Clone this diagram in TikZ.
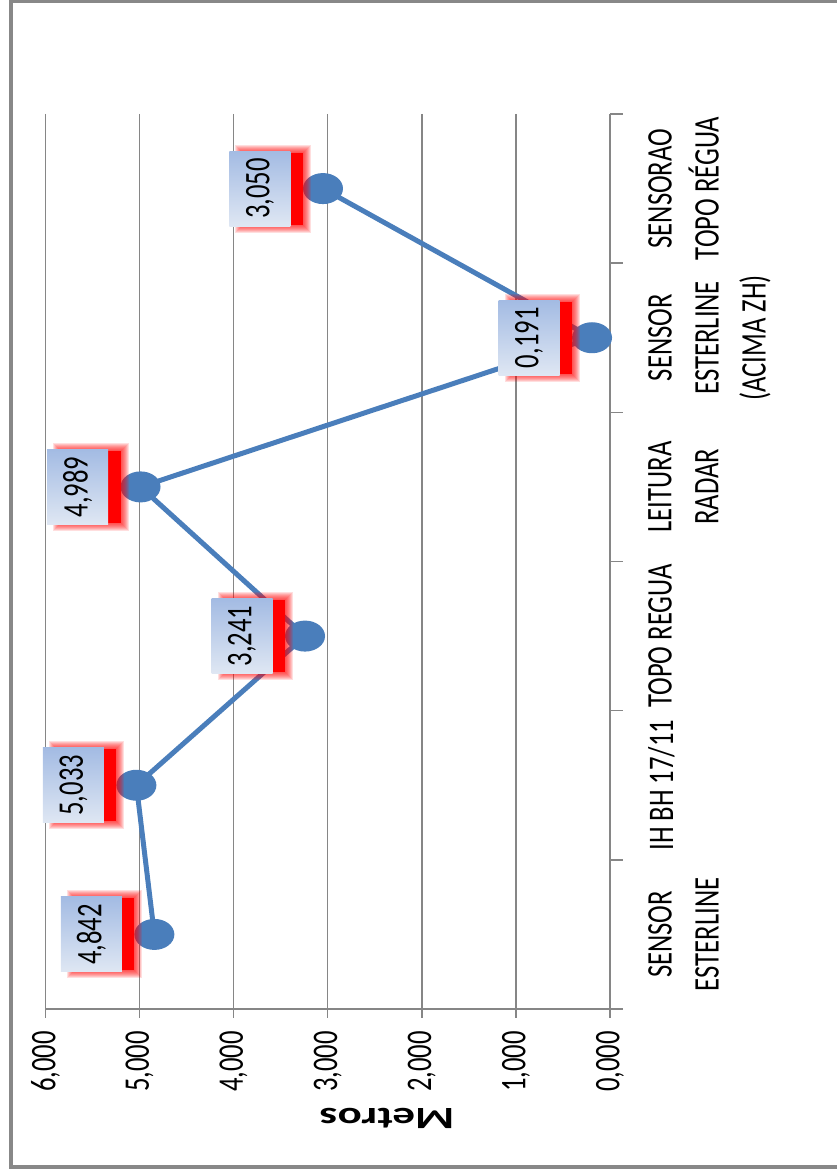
\documentclass[tikz,border=0pt]{standalone}
\usepackage{fontspec}
\setmainfont{Carlito}
\newfontfamily\narrowfont[FakeStretch=0.74]{Carlito}
\newfontfamily\widefont[FakeStretch=1.45]{Carlito}
\usetikzlibrary{calc}

\definecolor{serieblue}{HTML}{4A7EBB}
\definecolor{gridgray}{HTML}{868686}
\definecolor{framegray}{HTML}{888888}
\definecolor{labelleft}{HTML}{A3BBE3}
\definecolor{labelright}{HTML}{DFE7F3}

\tikzset{
    grid line/.style={draw=gridgray, line width=1.5pt},
    series line/.style={draw=serieblue, line width=5pt, line join=round},
    tick label/.style={rotate=90, inner sep=0pt, font=\narrowfont\fontsize{36}{44}\selectfont},
    cat label/.style={rotate=90, inner sep=0pt, anchor=north, align=center,
        font=\narrowfont\fontsize{36}{47}\selectfont},
    data label/.style={rotate=90, inner sep=0pt, minimum width=75pt, minimum height=61pt,
        top color=labelleft, bottom color=labelright,
        font=\narrowfont\fontsize{36}{40}\selectfont},
    axis title/.style={rotate=180, inner sep=0pt, font=\widefont\bfseries\fontsize{31}{36}\selectfont}
}

\begin{document}
\begin{tikzpicture}[x=1pt, y=-1pt]
    \useasboundingbox (0,0) rectangle (836,1169);

    \def \ax {610};     % value 0
    \def \ay {1009};    % category axis
    \def \ptop {114};
    \def \u {94.1};     % per 1000
    \def \h {149.17};   % per category

    % frame
    \draw[framegray, line width=3.5pt] (840,1.5) -- (11,1.5) -- (11,1167) -- (840,1167);

    % grid and axes
    \foreach \v in {1,...,6}
        \draw[grid line] (\ax-\u*\v, \ptop) -- (\ax-\u*\v, \ay+9);
    \draw[grid line] (\ax, \ptop) -- (\ax, \ay+9);
    \draw[grid line] (\ax-\u*6, \ay) -- (\ax, \ay);
    \foreach \i in {0,...,6}
        \draw[grid line] (\ax, \ay-\i*\h) -- (\ax+13, \ay-\i*\h);

    % tick labels
    \foreach \v in {0,...,6}
        \node[tick label, anchor=east] (tk\v) at (\ax-\u*\v, 1031) {\v,000};

    \node[axis title] (title) at (387,1118) {Metros};

    % categories
    \foreach \t [count=\i] in {{SENSOR\\ESTERLINE}, {IH BH 17/11}, {TOPO REGUA},
            {LEITURA\\RADAR}, {SENSOR\\ESTERLINE\\(ACIMA ZH)}, {SENSORAO\\TOPO RÉGUA}}
        \node[cat label] (cat\i) at (648, \ay-\i*\h+0.5*\h) {\t};

    % data points
    \foreach \v [count=\i] in {4.842, 5.033, 3.241, 4.989, 0.191, 3.050}
        \coordinate (p\i) at (\ax-\u*\v, \ay-\i*\h+0.5*\h);

    \draw[series line] (p1) -- (p2) -- (p3) -- (p4) -- (p5) -- (p6);

    \foreach \i in {1,...,6}
        \fill[serieblue] (p\i) ellipse (20 and 15.5);

    % data labels with red glow
    \foreach \t [count=\i] in {{4,842}, {5,033}, {3,241}, {4,989}, {0,191}, {3,050}} {
        \foreach \k in {8,7,...,1}
            \fill[red, opacity=0.13] ($(p\i)+(-79.5-\k, -36-\k)$) rectangle ($(p\i)+(-20+\k, 36+\k)$);
        \fill[red] ($(p\i)+(-79.5, -36)$) rectangle ($(p\i)+(-20, 36)$);
        \node[data label] (lab\i) at ($(p\i)+(-63,0)$) {\t};
    }

\end{tikzpicture}
\end{document}
